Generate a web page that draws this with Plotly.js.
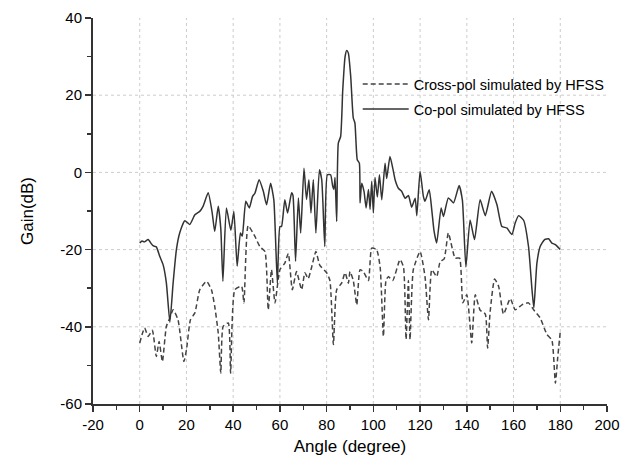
<!DOCTYPE html>
<html>
<head>
<meta charset="utf-8">
<script src="https://cdn.plot.ly/plotly-3.0.1.min.js"></script>
<style>html,body{margin:0;padding:0;background:#fff;}#chart{width:622px;height:467px;}</style>
</head>
<body>
<div id="chart"></div>
<script>
// Co-pol (solid) angle / gain
const coAngle = [0,1,2,3.6,5,5.7,7.1,8.6,10,11.4,12.9,14.3,15.7,17.1,19.3,21.4,23.6,25.7,27.1,29.3,31,32.1,33.6,34.7,35.6,37.1,39,40.3,41.7,43.1,43.9,45.4,46.9,48.3,49.3,51.1,52.9,54.3,56,57.4,58.9,60,60.7,62.1,63.3,65,65.6,66.7,67.9,68.9,70.3,71.4,72.4,73.3,74.3,75.4,76.9,77.9,79.2,80.3,81.7,82.6,83.1,83.6,84.3,85,86,86.9,87.9,88.6,89.3,90.3,91.4,92.1,93.1,94,94.3,95,96,96.9,97.9,98.6,99.3,100,100.7,101.7,102.6,103.6,105,105.7,107.1,108.3,109.3,110.7,112.1,113.6,115,116.4,117.9,118.6,120,121.4,122.1,123.9,125,126,127.1,129,130,132.1,134.3,136.7,138.1,139.6,141.4,143.3,145.7,147.9,150.6,152.9,155,157.1,159.3,160.7,162.2,164.3,166.4,167.9,168.7,170,171.4,173.3,175,176.4,177.9,180];
const coGain = [-18.3,-17.8,-18.0,-17.4,-18.5,-19,-19.3,-21.8,-23.9,-28.6,-38.8,-28.6,-20,-15.7,-12.5,-13.5,-11,-10.1,-8.8,-5.3,-10.4,-15.3,-8.8,-14.6,-28.2,-9.2,-15,-10.1,-24.3,-15.7,-16.5,-7.5,-9.2,-6.2,-5.4,-1.9,-4.9,-8.4,-2.8,-7.1,-28.7,-14,-14,-7.1,-10.5,-5.3,-6,-23,-6.6,-15.7,1.1,-7,-1.9,-10.5,-1.9,-15.7,0.7,-1.9,-19.2,-0.6,-0.6,-3.6,-4.4,-1.3,-12.7,7.6,9.3,21.4,30,31.6,30.9,24.9,14.1,12.8,3.3,2.4,-7.9,-2.8,-4.9,-9.2,-4.4,-9.6,-2.3,-10.5,-1.3,-6.4,-0.6,-7.1,2.4,-1.6,4.1,1.1,-1.9,-4.1,-4.9,-6.7,-6,-9,-6.7,-11.2,0.3,-6.2,-7.5,-4.5,-9.7,-15.3,-18.3,-9.2,-11.4,-6.6,-7.9,-3.4,-7.2,-24.5,-12.3,-17.4,-7.1,-11.2,-4.9,-8.4,-14,-14.4,-16.1,-13.1,-11.2,-12.4,-19.2,-30.4,-35.1,-23.5,-19.2,-17.4,-17.2,-18.3,-18.7,-20];

// Cross-pol (dashed) angle / gain
const xAngle = [0,1,2.1,3.6,5.4,7.1,8.3,9.7,11.4,12.9,14.3,16.4,18.9,20,21.7,23.6,25.7,28.6,30.7,32.1,33.6,34.7,35.7,37.9,38.9,40.7,43.6,44.6,46.4,49.3,51.4,53.6,55,56.4,57.9,60,62.1,63.6,65.3,67.1,69.3,70.7,72.1,73.6,75.4,77.1,80,81.4,82.9,84.3,86.4,87.9,89.3,90,91.4,92.9,94.3,95.7,97.9,99.3,101.4,102.9,104.3,105.4,106.4,108.3,111.4,112.9,114,115,115.7,117.1,120,122.1,123.6,125,127.1,128.6,130.3,132.1,135,136.9,138.3,140,142.1,143.6,145.7,147.9,148.9,150,151.9,153.6,155.7,158.6,160.7,163.6,166.4,168.6,171.4,174.3,176.4,177.9,178.9,180];
const xGain = [-44.2,-42,-40.3,-42.5,-40.9,-47.7,-43.8,-49,-39.9,-37.7,-35.6,-38.2,-49,-46,-38.2,-36.4,-30.4,-28.2,-30.4,-34.7,-41.6,-52,-39.9,-39,-52,-30.4,-29.5,-33.8,-13.8,-16.6,-19.2,-20.5,-35.6,-25.2,-33.8,-25.2,-23.5,-21,-30.4,-25.7,-30.4,-26,-27.5,-24.5,-20.5,-24.1,-26,-28,-44.6,-30.4,-28.7,-26,-28.7,-25.7,-28,-34.3,-25.2,-25.7,-28,-19.6,-20,-24.5,-42.5,-28,-27,-28,-22.6,-24.5,-43.3,-28,-43.3,-25.2,-20.5,-27,-38.2,-25.2,-27,-23.1,-22.4,-15.7,-22.2,-22.2,-33.8,-31.7,-44.2,-31.7,-35.7,-36.7,-45.5,-36,-27.6,-29.5,-36.7,-32.7,-35.6,-34.3,-33.8,-35.6,-37.7,-42,-43.4,-54.6,-48,-41.2];

const xTicks = [-20,0,20,40,60,80,100,120,140,160,180,200];
const yTicks = [-60,-40,-20,0,20,40];
const xRange = [-20, 200];
const yRange = [-60, 40];

const font = {family: 'Arial, "Liberation Sans", sans-serif', color: '#000'};

const traces = [
  {x: xAngle, y: xGain, mode: 'lines', name: 'Cross-pol simulated by HFSS', legendgroup: 'a',
   line: {color: '#444', width: 1.5, dash: '5px,3px', shape: 'spline', smoothing: 0.5}},
  {x: coAngle, y: coGain, mode: 'lines', name: 'Co-pol simulated by HFSS', legendgroup: 'b',
   line: {color: '#333', width: 1.5, shape: 'spline', smoothing: 0.5}}
];

// interior dotted grid lines (not at the frame edges)
const gridStyle = {color: '#cccccc', width: 1, dash: 'dot'};
const shapes = [];
xTicks.filter(v => v > xRange[0] && v < xRange[1]).forEach(v =>
  shapes.push({type: 'line', layer: 'below', xref: 'x', yref: 'paper', x0: v, x1: v, y0: 0, y1: 1, line: gridStyle}));
yTicks.filter(v => v > yRange[0] && v < yRange[1]).forEach(v =>
  shapes.push({type: 'line', layer: 'below', xref: 'paper', yref: 'y', x0: 0, x1: 1, y0: v, y1: v, line: gridStyle}));

const axisCommon = {
  showline: true, linecolor: '#333', linewidth: 2, mirror: false,
  ticks: 'outside', ticklen: 6, tickwidth: 1.5, tickcolor: '#333',
  showgrid: false, zeroline: false, tickfont: Object.assign({size: 15}, font)
};

const layout = {
  width: 622, height: 467,
  margin: {l: 93, r: 15, t: 18, b: 63},
  paper_bgcolor: '#fff', plot_bgcolor: '#fff',
  showlegend: true,
  shapes: shapes,
  legend: {x: 0.515, y: 0.87, xanchor: 'left', yanchor: 'top', bgcolor: 'rgba(0,0,0,0)',
           font: Object.assign({size: 14.5}, font), traceorder: 'grouped', tracegroupgap: 3,
           itemwidth: 46},
  xaxis: Object.assign({}, axisCommon, {
    range: xRange, tickvals: xTicks, ticktext: xTicks.map(String),
    minor: {dtick: 10, tick0: 0, ticks: 'outside', ticklen: 4, tickcolor: '#333', showgrid: false},
    title: {text: 'Angle (degree)', font: Object.assign({size: 17}, font), standoff: 8}
  }),
  yaxis: Object.assign({}, axisCommon, {
    range: yRange, tickvals: yTicks, ticktext: yTicks.map(String),
    minor: {dtick: 10, tick0: 0, ticks: 'outside', ticklen: 4, tickcolor: '#333', showgrid: false},
    title: {text: 'Gain(dB)', font: Object.assign({size: 17}, font), standoff: 22}
  })
};

Plotly.newPlot('chart', traces, layout, {staticPlot: true, displayModeBar: false});
</script>
</body>
</html>
